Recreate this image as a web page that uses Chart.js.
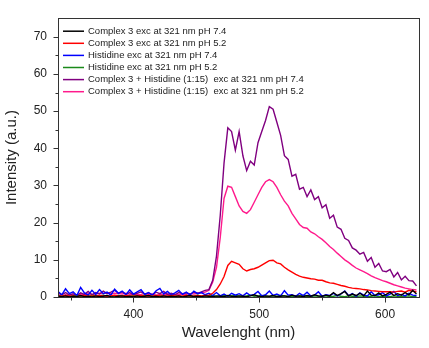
<!DOCTYPE html>
<html><head><meta charset="utf-8">
<script src="https://cdn.jsdelivr.net/npm/chart.js@4.4.0/dist/chart.umd.min.js"></script>
<style>html,body{margin:0;padding:0;background:#fff;}canvas{display:block;}</style>
</head><body>
<canvas id="c" width="429" height="348"></canvas>
<script>
const wavelengths = [340,343,346,349,352,355,358,361,364,367,370,373,376,379,382,385,388,391,394,397,400,403,406,409,412,415,418,421,424,427,430,433,436,439,442,445,448,451,454,457,460,463,466,469,472,475,478,481,484,487,490,493,496,499,502,505,508,511,514,517,520,523,526,529,532,535,538,541,544,547,550,553,556,559,562,565,568,571,574,577,580,583,586,589,592,595,598,601,604,607,610,613,616,619,622,625];

const complex74 = [0.2,0.1,0.3,0.0,0.2,0.1,0.4,0.1,0.2,0.0,0.3,0.1,0.2,0.4,0.1,0.0,0.2,0.3,0.1,0.2,0.0,0.3,0.1,0.2,0.4,0.1,0.2,0.0,0.3,0.1,0.2,0.1,0.3,0.0,0.2,0.4,0.1,0.2,0.1,0.3,
 0.2,0.1,0.3,0.2,0.1,0.4,0.2,0.1,0.3,0.2,0.1,0.3,0.6,0.2,0.1,0.3,0.2,0.4,0.1,0.2,0.3,0.1,0.5,0.2,0.3,0.1,0.4,0.2,0.6,0.3,0.2,0.5,0.3,1.2,0.4,0.9,1.5,0.3,0.8,0.4,1.0,0.3,1.6,0.5,0.4,1.1,0.3,0.7,1.3,0.4,0.9,0.5,1.2,0.6,1.8,0.8];

const complex52 = [0.3,0.2,0.4,0.2,0.3,0.1,0.3,0.4,0.2,0.3,0.2,0.4,0.3,0.2,0.3,0.5,0.3,0.2,0.4,0.3,0.2,0.3,0.4,0.2,0.3,0.2,0.4,0.3,0.2,0.3,0.4,0.3,0.2,0.3,0.4,0.3,0.2,0.4,0.3,0.4,
 0.5,1.0,2.0,3.5,5.5,8.5,9.6,9.2,8.8,7.6,7.0,7.4,7.6,8.0,8.6,9.2,9.8,9.9,9.2,8.9,8.0,7.3,6.7,6.1,5.6,5.3,5.1,4.9,4.8,4.5,4.5,4.1,3.8,3.7,3.4,3.1,2.9,2.6,2.4,2.3,2.2,2.0,1.9,1.7,1.6,1.5,1.4,1.4,1.4,1.3,1.5,1.6,1.3,1.8,1.5,1.4];

const histidine74 = [1.5,0.6,2.2,0.9,1.4,0.4,2.6,1.1,0.5,1.8,0.7,2.0,0.9,1.3,0.5,2.1,1.0,1.6,0.6,1.9,0.8,1.4,2.0,0.7,1.2,0.5,1.7,2.3,0.8,1.5,0.6,1.1,1.8,0.7,1.3,0.5,1.6,0.9,1.2,0.6,
 1.0,0.4,1.2,0.3,0.8,0.2,1.0,0.5,0.9,0.3,1.1,0.4,0.7,1.5,0.3,0.6,1.6,0.4,0.8,0.3,1.7,0.5,0.6,0.2,1.0,0.4,1.3,0.3,0.5,1.4,0.2,0.6,0.4,1.0,0.3,0.8,1.6,0.4,0.9,0.2,1.1,0.5,0.3,1.4,0.4,0.6,1.2,0.3,0.8,1.5,0.4,0.7,0.3,1.0,0.5,0.4];

const histidine52 = [0.3,0.2,0.4,0.1,0.3,0.5,0.2,0.3,0.1,0.4,0.2,0.3,0.5,0.2,0.1,0.3,0.4,0.2,0.3,0.1,0.4,0.2,0.3,0.5,0.2,0.3,0.1,0.4,0.3,0.2,0.5,0.2,0.3,0.1,0.4,0.2,0.3,0.5,0.2,0.3,
 0.2,0.4,0.1,0.3,0.5,0.2,0.3,0.4,0.2,0.1,0.3,0.5,0.2,0.3,0.4,0.2,0.1,0.3,0.2,0.4,0.3,0.2,0.1,0.3,0.2,0.4,0.2,0.1,0.3,0.2,0.2,0.3,0.1,0.2,0.4,0.2,0.1,0.3,0.2,0.1,0.3,0.2,0.1,0.2,0.3,0.1,0.2,0.2,0.1,0.3,0.2,0.1,0.2,0.3,0.1,0.2];

const mix74 = [1.0,0.6,1.2,0.5,0.9,0.4,1.1,0.7,1.5,0.6,1.2,0.8,1.6,0.9,1.3,1.8,1.0,1.4,0.7,1.2,0.6,1.0,1.4,0.8,1.1,0.6,1.3,0.9,1.5,0.7,1.0,0.6,1.2,0.9,1.1,0.8,1.3,1.0,1.4,1.8,
 2.0,4.5,11,22,36,45.5,44.5,39.5,44.5,38,34,36.5,35.5,41.5,44.5,47.5,51.2,
 50.5,47,43.5,38,37,32.5,33,29,29.5,27,28.8,26.2,27,24,24.8,21.2,22,18.8,18.2,15.8,15.2,13.2,12.6,11.5,12.0,9.6,10.6,8.0,9.0,7.0,6.8,7.4,5.4,6.6,4.6,5.6,4.4,4.3,3.0];

const mix52 = [0.5,0.3,0.6,0.4,0.7,0.5,0.8,0.6,0.9,0.7,0.8,1.0,0.9,1.1,0.8,1.0,0.9,0.8,1.0,0.7,0.8,0.6,0.7,0.9,0.6,0.8,0.5,0.7,0.6,0.8,0.5,0.7,0.6,0.8,0.7,0.9,0.8,1.0,1.1,1.3,
 1.8,4.0,8.0,16,26.5,29.8,29.5,27,24.5,23,22.5,23.5,25.5,27.5,29.5,31,31.6,31,29.5,27.5,25.8,24.5,22.5,21,19.5,18.7,18.5,17.5,17,16.2,15.5,14.6,13.6,12.8,11.8,10.9,10,9.3,8.5,7.8,7.3,6.8,6.3,5.7,5.2,4.8,4.4,4.1,3.7,3.3,3.0,2.7,2.4,2.2,2.0,1.9];

const seriesLabels = [
  'Complex 3 exc at 321 nm pH 7.4',
  'Complex 3 exc at 321 nm pH 5.2',
  'Histidine exc at 321 nm pH 7.4',
  'Histidine exc at 321 nm pH 5.2',
  'Complex 3 + Histidine (1:15)  exc at 321 nm pH 7.4',
  'Complex 3 + Histidine (1:15)  exc at 321 nm pH 5.2'
];
const seriesColors = ['#000000','#ff0000','#0000ff','#1a8a1a','#800080','#ff1a8c'];
const seriesData = [complex74, complex52, histidine74, histidine52, mix74, mix52];

const xMajorTicks = [400,500,600];
const xMinorTicks = [350,450,550];
const yMajorTicks = [0,10,20,30,40,50,60,70];
const yMinorTicks = [5,15,25,35,45,55,65];

const FONT = '"Liberation Sans", Arial, sans-serif';

const framePlugin = {
  id: 'frame',
  afterDraw(chart) {
    const {ctx, chartArea: a, scales: {x, y}} = chart;
    ctx.save();
    ctx.strokeStyle = '#333';
    ctx.lineWidth = 1;
    ctx.strokeRect(Math.round(a.left) + 0.5, Math.round(a.top) + 0.5, Math.round(a.right - a.left), Math.round(a.bottom - a.top));
    const line = (x1, y1, x2, y2) => { ctx.beginPath(); ctx.moveTo(x1, y1); ctx.lineTo(x2, y2); ctx.stroke(); };
    const b = Math.round(a.bottom) + 0.5, l = Math.round(a.left) + 0.5;
    xMajorTicks.forEach(v => { const p = Math.round(x.getPixelForValue(v)) + 0.5; line(p, b, p, b + 5); });
    xMinorTicks.forEach(v => { const p = Math.round(x.getPixelForValue(v)) + 0.5; line(p, b, p, b + 3); });
    yMajorTicks.forEach(v => { const p = Math.round(y.getPixelForValue(v)) + 0.5; line(l, p, l - 5, p); });
    yMinorTicks.forEach(v => { const p = Math.round(y.getPixelForValue(v)) + 0.5; line(l, p, l - 3, p); });
    // legend
    ctx.font = '9.5px ' + FONT;
    ctx.textBaseline = 'middle';
    ctx.fillStyle = '#222';
    chart.data.datasets.forEach((ds, i) => {
      const yy = a.top + 13 + i * 12.1;
      ctx.strokeStyle = ds.borderColor;
      ctx.lineWidth = 1.5;
      line(a.left + 5, yy, a.left + 26, yy);
      ctx.fillText(ds.label, a.left + 30, yy);
    });
    ctx.restore();
  }
};

new Chart(document.getElementById('c'), {
  type: 'line',
  data: {
    datasets: seriesData.map((arr, i) => ({
      label: seriesLabels[i],
      data: wavelengths.map((w, j) => ({x: w, y: arr[j]})),
      borderColor: seriesColors[i],
      borderWidth: 1.4,
      pointRadius: 0,
      tension: 0,
      fill: false
    }))
  },
  options: {
    responsive: false,
    animation: false,
    devicePixelRatio: 1,
    layout: {padding: {top: 3, right: 10, left: 0, bottom: 0}},
    plugins: {legend: {display: false}, tooltip: {enabled: false}},
    scales: {
      x: {
        type: 'linear', min: 340, max: 627,
        grid: {display: false, drawTicks: false},
        border: {display: false},
        afterBuildTicks: s => { s.ticks = xMajorTicks.map(v => ({value: v})); },
        afterFit: s => { s.height = 51; },
        ticks: {padding: 10, color: '#222', font: {family: FONT, size: 12}},
        title: {display: true, text: 'Wavelenght (nm)', color: '#222', font: {family: FONT, size: 15}, padding: {top: 0, bottom: 6}}
      },
      y: {
        type: 'linear', min: 0, max: 75,
        grid: {display: false, drawTicks: false},
        border: {display: false},
        afterBuildTicks: s => { s.ticks = yMajorTicks.map(v => ({value: v})); },
        afterFit: s => { s.width = 58; },
        ticks: {padding: 11, color: '#222', font: {family: FONT, size: 12}},
        title: {display: true, text: 'Intensity (a.u.)', color: '#222', font: {family: FONT, size: 15}, padding: {top: 3, bottom: 0}}
      }
    }
  },
  plugins: [framePlugin]
});
</script>
</body></html>
